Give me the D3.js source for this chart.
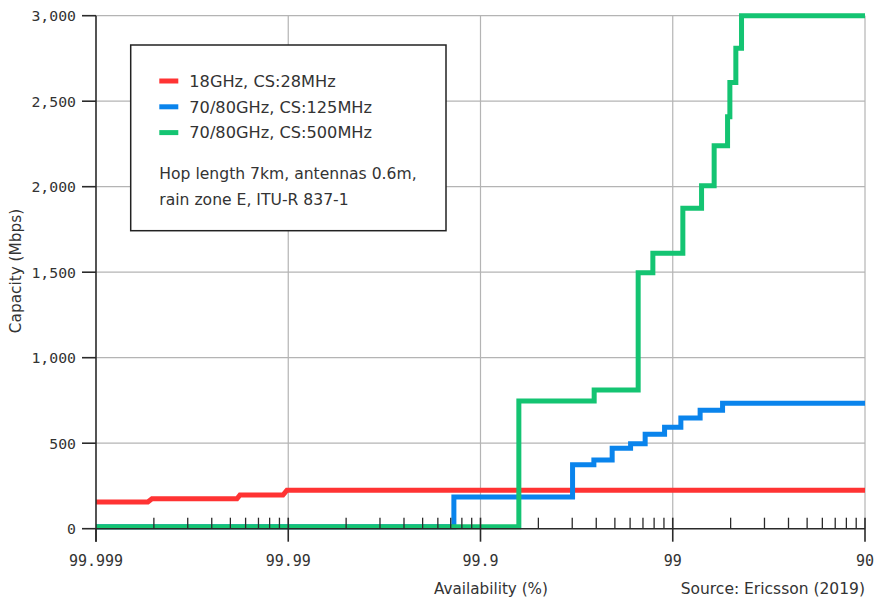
<!DOCTYPE html>
<html>
<head>
<meta charset="utf-8">
<script src="https://cdn.jsdelivr.net/npm/d3@7"></script>
<style>
  html, body { margin: 0; padding: 0; background: #fff; }
  svg { display: block; }
  .mono { font-family: "DejaVu Sans Mono", monospace; fill: #333; }
  .sans { font-family: "DejaVu Sans", "Noto Sans", sans-serif; fill: #333; }
</style>
</head>
<body>
<svg id="chart" width="875" height="603"></svg>
<script>
// ---------- data ----------
const xTickLabels = ["99.999", "99.99", "99.9", "99", "90"];
const yTickValues = [0, 500, 1000, 1500, 2000, 2500, 3000];

const seriesNames = ["18GHz, CS:28MHz", "70/80GHz, CS:125MHz", "70/80GHz, CS:500MHz"];
const seriesColors = ["#ff3333", "#0a84ec", "#14c472"];

// 18GHz, CS:28MHz (availability %, capacity Mbps)
const redAvail = [99.999, 99.99814, 99.998045, 99.99459, 99.99439, 99.990615, 99.990155, 90];
const redCap   = [156, 156, 175, 175, 197, 197, 225, 225];

// 70/80GHz, CS:125MHz
const blueAvail = [99.999, 99.9273, 99.6988, 99.6112, 99.516, 99.3965, 99.2814, 99.0934, 98.898, 98.612, 98.184, 90];
const blueCap   = [12, 185, 374, 402, 470, 497, 552, 593, 647, 692, 733, 733];

// 70/80GHz, CS:500MHz
const greenAvail = [99.999, 99.8417, 99.6098, 99.3391, 99.212, 98.8715, 98.588, 98.358, 98.072, 98.018, 97.871, 97.721, 90];
const greenCap   = [12, 747, 811, 1497, 1611, 1874, 2006, 2240, 2409, 2610, 2810, 3000, 3000];

const noteLines = ["Hop length 7km, antennas 0.6m,", "rain zone E, ITU-R 837-1"];

// ---------- layout ----------
const svg = d3.select("#chart");
const pLeft = 96, pRight = 865, pTop = 15.7, pBottom = 528.7;

const toU = a => Math.max(1e-6, 100 - a);  // unavailability %
const x = d3.scaleLog().domain([toU(99.999), toU(90)]).range([pLeft, pRight]);
const y = d3.scaleLinear().domain([0, 3000]).range([pBottom, pTop]);

const gridColor = "#b4b4b4";
const axisColor = "#2a2a2a";

// horizontal gridlines
svg.append("g").selectAll("line").data(yTickValues.filter(v => v > 0)).join("line")
  .attr("x1", pLeft).attr("x2", pRight)
  .attr("y1", d => y(d)).attr("y2", d => y(d))
  .attr("stroke", gridColor).attr("stroke-width", 1.2);

// vertical gridlines
const xMajors = xTickLabels.map(s => toU(+s));
svg.append("g").selectAll("line").data(xMajors.slice(1)).join("line")
  .attr("x1", d => x(d)).attr("x2", d => x(d))
  .attr("y1", pTop).attr("y2", pBottom)
  .attr("stroke", gridColor).attr("stroke-width", 1.2);

// legend box (drawn over gridlines)
const lg = svg.append("g");
lg.append("rect").attr("x", 130.7).attr("y", 45).attr("width", 315.3).attr("height", 185.7)
  .attr("fill", "#fff").attr("stroke", "#222").attr("stroke-width", 1.5);
seriesNames.forEach((n, i) => {
  const yy = 81 + i * 25.8;
  lg.append("line").attr("x1", 159.3).attr("x2", 178.3).attr("y1", yy).attr("y2", yy)
    .attr("stroke", seriesColors[i]).attr("stroke-width", 5);
  lg.append("text").attr("class", "sans").attr("x", 189.3).attr("y", yy)
    .attr("dy", "0.36em").attr("font-size", 16.2).text(n);
});
noteLines.forEach((t, i) => {
  lg.append("text").attr("class", "sans").attr("x", 159.3).attr("y", 178.5 + i * 26)
    .attr("font-size", 15.6).text(t);
});

// series lines
const series = [
  { a: redAvail, c: redCap, curve: d3.curveLinear },
  { a: blueAvail, c: blueCap, curve: d3.curveStepAfter },
  { a: greenAvail, c: greenCap, curve: d3.curveStepAfter }
];
series.forEach((s, i) => {
  const pts = s.a.map((a, j) => [toU(a), s.c[j]]);
  const line = d3.line().x(d => x(d[0])).y(d => y(d[1])).curve(s.curve);
  svg.append("path").attr("d", line(pts)).attr("fill", "none")
    .attr("stroke", seriesColors[i]).attr("stroke-width", 5)
    .attr("stroke-linejoin", "miter").attr("stroke-linecap", "butt");
});

// x axis: baseline, minor and major ticks
const ax = svg.append("g");
ax.append("line").attr("x1", pLeft).attr("x2", pRight).attr("y1", pBottom).attr("y2", pBottom)
  .attr("stroke", axisColor).attr("stroke-width", 1.6);
const minors = [];
xMajors.slice(0, -1).forEach(d => { for (let k = 2; k <= 9; k++) minors.push(d * k); });
ax.selectAll("line.minor").data(minors).join("line").attr("class", "minor")
  .attr("x1", d => x(d)).attr("x2", d => x(d))
  .attr("y1", pBottom - 11).attr("y2", pBottom)
  .attr("stroke", axisColor).attr("stroke-width", 1.3);
ax.selectAll("line.major").data(xMajors).join("line").attr("class", "major")
  .attr("x1", d => x(d)).attr("x2", d => x(d))
  .attr("y1", (d, i) => i === 0 ? pBottom : pBottom - 11).attr("y2", pBottom + 13)
  .attr("stroke", axisColor).attr("stroke-width", 1.6);
ax.selectAll("text").data(xTickLabels).join("text").attr("class", "mono")
  .attr("x", d => x(toU(+d))).attr("y", 566).attr("text-anchor", "middle")
  .attr("font-size", 15).text(d => d);

// y axis
const ay = svg.append("g");
ay.append("line").attr("x1", pLeft).attr("x2", pLeft).attr("y1", pTop).attr("y2", pBottom + 13)
  .attr("stroke", axisColor).attr("stroke-width", 1.6);
ay.selectAll("line.t").data(yTickValues).join("line").attr("class", "t")
  .attr("x1", pLeft - 14).attr("x2", pLeft)
  .attr("y1", d => y(d)).attr("y2", d => y(d))
  .attr("stroke", axisColor).attr("stroke-width", 1.6);
ay.selectAll("text").data(yTickValues).join("text").attr("class", "mono")
  .attr("x", 76).attr("y", d => y(d)).attr("dy", "0.36em").attr("text-anchor", "end")
  .attr("font-size", 14.8).text(d => d3.format(",")(d));

// axis titles and source
svg.append("text").attr("class", "sans").attr("transform", "translate(21,271) rotate(-90)")
  .attr("text-anchor", "middle").attr("font-size", 15.3).text("Capacity (Mbps)");
svg.append("text").attr("class", "sans").attr("x", 491).attr("y", 593.5)
  .attr("text-anchor", "middle").attr("font-size", 15.2).text("Availability (%)");
svg.append("text").attr("class", "sans").attr("x", 865).attr("y", 593.5)
  .attr("text-anchor", "end").attr("font-size", 15.5).text("Source: Ericsson (2019)");
</script>
</body>
</html>
